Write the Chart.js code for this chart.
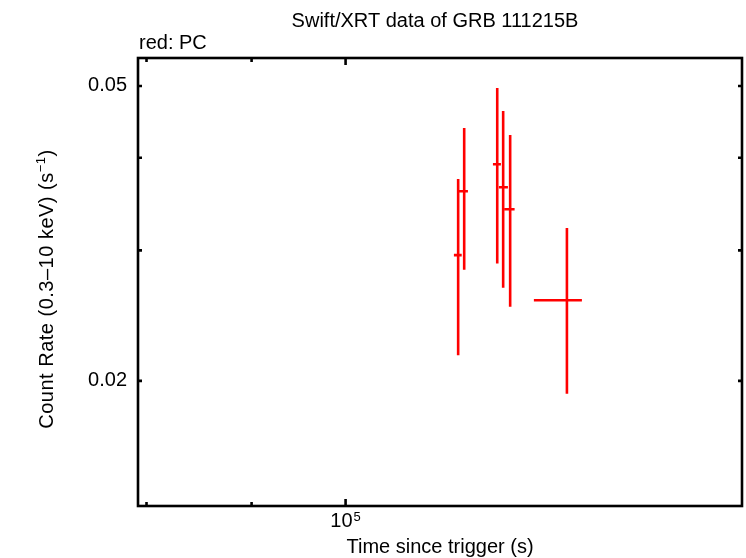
<!DOCTYPE html>
<html>
<head>
<meta charset="utf-8">
<script src="https://cdn.jsdelivr.net/npm/chart.js@4/dist/chart.umd.min.js"></script>
<style>
  body { margin: 0; background: #fff; }
  canvas { display: block; }
</style>
</head>
<body>
<canvas id="lc" width="746" height="558" style="width:746px;height:558px"></canvas>
<script>
// PC mode light curve
const times = [1.1345e5, 1.1422e5, 1.1853e5, 1.1932e5, 1.2026e5, 1.2816e5];
const timeStart = [1.1291e5, 1.1345e5, 1.1796e5, 1.1875e5, 1.1946e5, 1.2350e5];
const timeStop = [1.1390e5, 1.1470e5, 1.1902e5, 1.1996e5, 1.2086e5, 1.3033e5];
const rates = [0.02956, 0.03605, 0.03920, 0.03650, 0.03409, 0.02570];
const rateLow = [0.02166, 0.02824, 0.02880, 0.02672, 0.02519, 0.01922];
const rateHigh = [0.03745, 0.04389, 0.04969, 0.04627, 0.04295, 0.03217];

const xTicks = [8e4, 9e4, 1e5];
const xMajor = [1e5];
const yTicks = [0.02, 0.03, 0.04, 0.05];
const yTickLabels = ['0.02', '', '', '0.05'];

const FONT = "'Liberation Sans', Arial, Helvetica, sans-serif";

// error bars, inward tick marks, frame and the texts gnuplot puts around the plot
const gnuplotLook = {
  id: 'gnuplotLook',
  afterDatasetsDraw(chart) {
    const { ctx, scales: { x, y } } = chart;
    ctx.save();
    ctx.strokeStyle = '#ff0000';
    ctx.lineWidth = 2.6;
    ctx.lineCap = 'butt';
    for (let i = 0; i < times.length; i++) {
      const px = x.getPixelForValue(times[i]);
      const py = y.getPixelForValue(rates[i]);
      ctx.beginPath();
      ctx.moveTo(px, y.getPixelForValue(rateHigh[i]));
      ctx.lineTo(px, y.getPixelForValue(rateLow[i]));
      ctx.moveTo(x.getPixelForValue(timeStart[i]), py);
      ctx.lineTo(x.getPixelForValue(timeStop[i]), py);
      ctx.stroke();
    }
    ctx.restore();
  },
  afterDraw(chart) {
    const { ctx, chartArea: a, scales: { x, y } } = chart;
    ctx.save();
    ctx.strokeStyle = '#000';
    ctx.lineWidth = 2.6;
    ctx.beginPath();
    xTicks.forEach(v => {
      const px = x.getPixelForValue(v);
      const len = xMajor.includes(v) ? 7 : 4;
      ctx.moveTo(px, a.bottom); ctx.lineTo(px, a.bottom - len);
      ctx.moveTo(px, a.top); ctx.lineTo(px, a.top + len);
    });
    yTicks.forEach(v => {
      const py = y.getPixelForValue(v);
      ctx.moveTo(a.left, py); ctx.lineTo(a.left + 4, py);
      ctx.moveTo(a.right, py); ctx.lineTo(a.right - 4, py);
    });
    ctx.stroke();
    ctx.strokeRect(a.left, a.top, a.right - a.left, a.bottom - a.top);

    ctx.fillStyle = '#000';
    ctx.textBaseline = 'alphabetic';
    ctx.font = '20px ' + FONT;
    ctx.textAlign = 'center';
    ctx.fillText('Swift/XRT data of GRB 111215B', 435, 27);
    ctx.textAlign = 'left';
    ctx.fillText('red: PC', a.left + 1, 49);

    // 10^5 under its tick
    const base = '10', sup = '5';
    ctx.font = '20px ' + FONT;
    const wb = ctx.measureText(base).width;
    ctx.font = '13px ' + FONT;
    const ws = ctx.measureText(sup).width;
    const x0 = x.getPixelForValue(1e5) - (wb + 1 + ws) / 2;
    ctx.font = '20px ' + FONT;
    ctx.fillText(base, x0, 527);
    ctx.font = '13px ' + FONT;
    ctx.fillText(sup, x0 + wb + 1, 521);

    ctx.font = '20px ' + FONT;
    ctx.textAlign = 'center';
    ctx.fillText('Time since trigger (s)', (a.left + a.right) / 2, 553);

    // rotated y title with s^-1
    const parts = [['Count Rate (0.3\u201310 keV) (s', 20, 0], ['\u22121', 13, -8], [')', 20, 0]];
    ctx.translate(53, 289);
    ctx.rotate(-Math.PI / 2);
    ctx.textAlign = 'left';
    ctx.letterSpacing = '0.5px';
    let total = 0;
    parts.forEach(p => { ctx.font = p[1] + 'px ' + FONT; total += ctx.measureText(p[0]).width; });
    let cx = -total / 2;
    parts.forEach(p => {
      ctx.font = p[1] + 'px ' + FONT;
      ctx.fillText(p[0], cx, p[2]);
      cx += ctx.measureText(p[0]).width;
    });
    ctx.restore();
  }
};

new Chart(document.getElementById('lc'), {
  type: 'scatter',
  data: {
    datasets: [{
      label: 'PC',
      data: times.map((t, i) => ({ x: t, y: rates[i] })),
      pointRadius: 0,
      borderColor: '#ff0000',
      backgroundColor: '#ff0000'
    }]
  },
  options: {
    responsive: false,
    animation: false,
    devicePixelRatio: 1,
    layout: { padding: { top: 58, right: 4, left: 0, bottom: 0 } },
    plugins: { legend: { display: false }, tooltip: { enabled: false } },
    scales: {
      x: {
        type: 'logarithmic',
        min: 7.924e4,
        max: 1.5595e5,
        grid: { display: false, drawTicks: false },
        border: { display: false },
        afterBuildTicks: s => { s.ticks = xTicks.map(v => ({ value: v })); },
        afterFit: s => { s.height = 52; },
        ticks: { autoSkip: false, maxRotation: 0, callback: () => '' }
      },
      y: {
        type: 'logarithmic',
        min: 0.01356,
        max: 0.05454,
        grid: { display: false, drawTicks: false },
        border: { display: false },
        afterBuildTicks: s => { s.ticks = yTicks.map(v => ({ value: v })); },
        afterFit: s => { s.width = 138; },
        ticks: {
          autoSkip: false,
          padding: 11,
          color: '#000',
          font: { family: FONT, size: 20 },
          callback: v => yTickLabels[yTicks.indexOf(v)] ?? ''
        }
      }
    }
  },
  plugins: [gnuplotLook]
});
</script>
</body>
</html>
